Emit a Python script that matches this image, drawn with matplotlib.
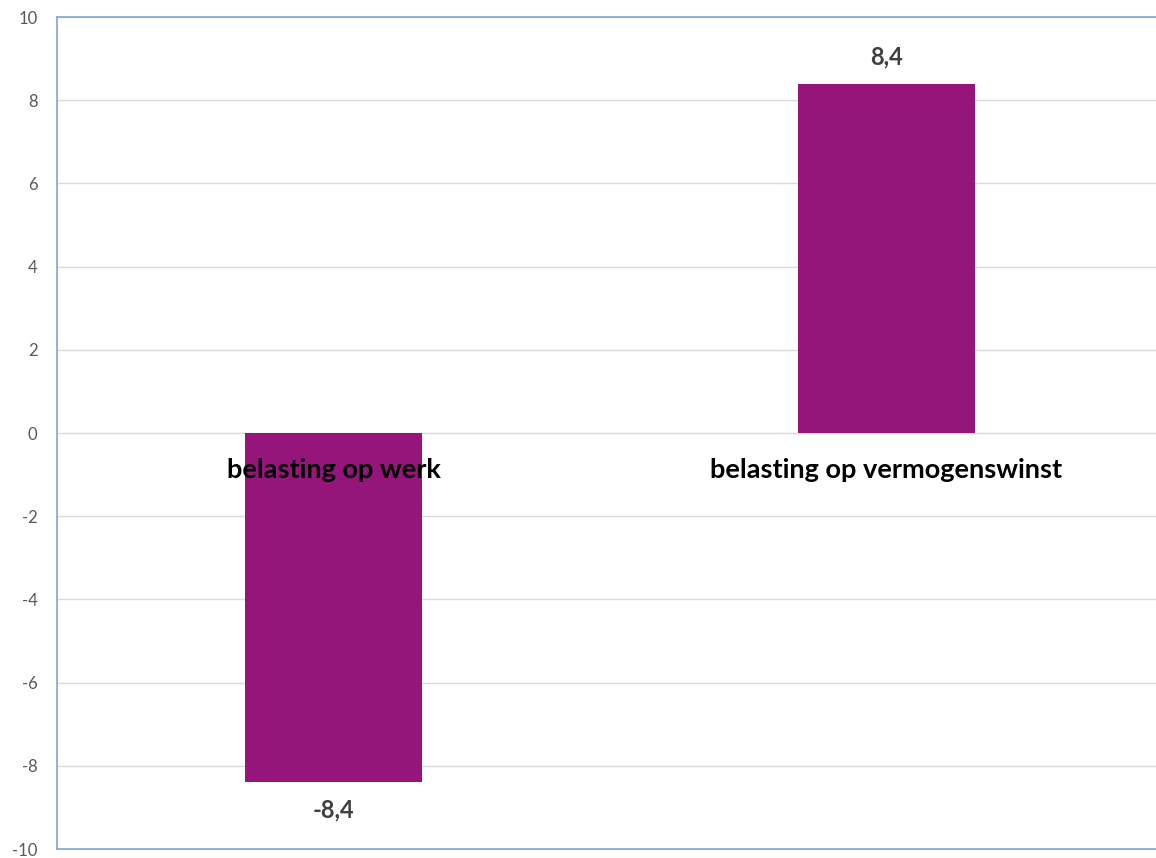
import matplotlib.pyplot as plt

# gegevens
categorieen = ["belasting op werk", "belasting op vermogenswinst"]
waarden = [-8.4, 8.4]
y_ticks = [-10, -8, -6, -4, -2, 0, 2, 4, 6, 8, 10]

plt.rcParams['font.family'] = ['Lato', 'DejaVu Sans']

fig = plt.figure(figsize=(11.56, 8.58), dpi=100)
# plot area runs a bit past the right edge of the picture
ax = fig.add_axes([57 / 1156, 9 / 858, 1106 / 1156, 832 / 858])

x = list(range(len(categorieen)))
ax.bar(x, waarden, width=0.32, color="#96157A", zorder=3)

ax.set_xlim(-0.5, 1.5)
ax.set_ylim(-10, 10)
ax.set_yticks(y_ticks)
ax.set_yticklabels([str(t) for t in y_ticks], color="#595959", fontsize=12)
ax.tick_params(axis="y", length=0, pad=14)
ax.set_xticks([])

ax.grid(axis="y", color="#D9D9D9", linewidth=1, zorder=0)
for side in ["left", "top", "bottom"]:
    ax.spines[side].set_color("#7FA7D4")
    ax.spines[side].set_linewidth(1.2)
ax.spines["right"].set_visible(False)

# categorie labels bij de nullijn
for xi, cat in zip(x, categorieen):
    ax.annotate(cat, (xi, 0), xytext=(0, -27), textcoords="offset points",
                ha="center", va="center", fontsize=19.5, fontweight="bold",
                color="black", zorder=5)

# waarden boven/onder de balken
for xi, v in zip(x, waarden):
    label = f"{v:.1f}".replace(".", ",")
    off = 19 if v > 0 else -20
    ax.annotate(label, (xi, v), xytext=(0, off), textcoords="offset points",
                ha="center", va="center", fontsize=17, fontweight="bold",
                color="#404040")

fig.savefig("out.png", dpi=100)
